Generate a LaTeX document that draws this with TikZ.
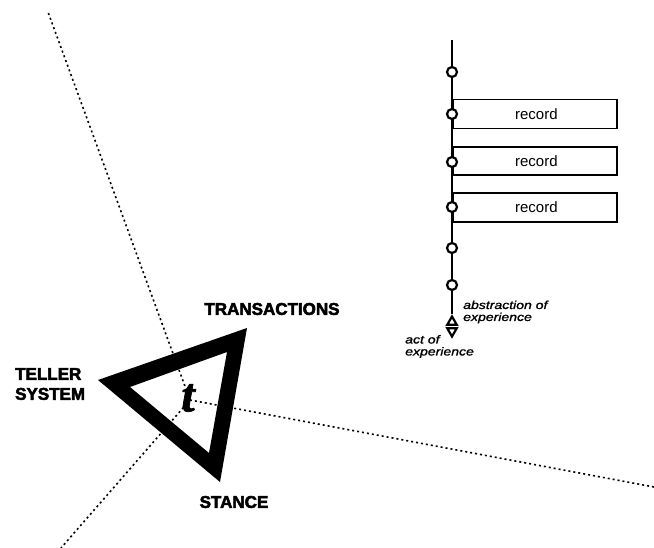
\documentclass[tikz,border=0pt]{standalone}
\usepackage{fontspec}
\setmainfont{Liberation Sans}
\newfontfamily\heavyfont{Liberation Sans}[FakeBold=3]
\newfontfamily\notefont{Liberation Sans}[FakeBold=1.2]
\newfontfamily\tfont{Liberation Serif}[FakeBold=1.5]
\usetikzlibrary{shapes.geometric}
\begin{document}
\begin{tikzpicture}[x=1pt,y=-1pt,
  lbl/.style={font=\heavyfont\bfseries\fontsize{17}{20}\selectfont, inner sep=0pt},
  dotline/.style={line width=1.6pt, dash pattern=on 2pt off 3pt},
  tick/.style={circle, draw, fill=white, line width=2.2pt, minimum size=10pt, inner sep=0pt},
  recbox/.style={draw, line width=1.7pt, minimum width=164pt, minimum height=29pt, anchor=west, inner sep=0pt, font=\fontsize{15}{18}\selectfont},
  note/.style={font=\notefont\itshape\fontsize{11.5}{12}\selectfont, inner sep=0pt, xscale=1.22, align=left},
  arr/.style={regular polygon, regular polygon sides=3, draw, fill=white, line width=2.2pt, minimum size=11pt, inner sep=0pt},
]
\useasboundingbox (0,0) rectangle (654,548);

% dotted lines
\coordinate (ctr) at (190,400);
\coordinate (e1) at (48,12);
\coordinate (e2) at (654,487);
\coordinate (e3) at (61,548);
\draw[dotline] (ctr) -- (e1);
\draw[dotline] (ctr) -- (e2);
\draw[dotline] (ctr) -- (e3);

% thick triangle
\fill[even odd rule] (98,380) -- (247,328) -- (220,482) -- cycle
                      (130,387) -- (227,352) -- (209,453) -- cycle;
\node[font=\tfont\bfseries\itshape\fontsize{48}{48}\selectfont, inner sep=0pt] (t) at (188,398) {t};

\node[lbl] (trans) at (272,309) {TRANSACTIONS};
\node[lbl, align=left, anchor=west] (teller) at (15,384) {TELLER\\SYSTEM};
\node[lbl] (stance) at (234,502) {STANCE};

% time line
\coordinate (top) at (452,40);
\node[arr] (abs) at (452,322) {};
\node[arr, shape border rotate=180] (act) at (452,331) {};
\draw[line width=1.6pt] (top) -- (abs.north);

\node[recbox] (r1) at (452,114) {\hspace*{3pt}record};
\node[recbox, minimum height=28pt] (r2) at (452,161) {\hspace*{3pt}record};
\node[recbox] (r3) at (452,207.5) {\hspace*{3pt}record};

\node[tick] (c1) at (452,72) {};
\node[tick] (c2) at (452,114) {};
\node[tick] (c3) at (452,162) {};
\node[tick] (c4) at (452,207) {};
\node[tick] (c5) at (452,248) {};
\node[tick] (c6) at (452,285) {};

\node[note, anchor=west] (abstxt) at (463,312) {abstraction of\\experience};
\node[note, anchor=west] (acttxt) at (405,346.5) {act of\\experience};
\end{tikzpicture}
\end{document}
